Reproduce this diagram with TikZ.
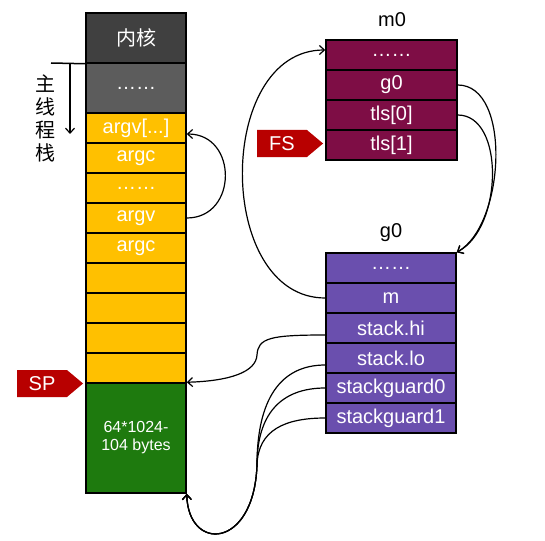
\documentclass[tikz,border=0pt]{standalone}
\usepackage{fontspec}
\setmainfont{Liberation Sans}
\newfontfamily\cjk{Noto Sans CJK SC}
\usetikzlibrary{arrows.meta,shapes.symbols}
\definecolor{kgray}{HTML}{404040}
\definecolor{dgray}{HTML}{5C5C5C}
\definecolor{ylw}{HTML}{FFC000}
\definecolor{grn}{HTML}{1E7A0E}
\definecolor{maroon}{HTML}{7E0D45}
\definecolor{purp}{HTML}{6A4FAE}
\definecolor{tagred}{HTML}{B80000}
\begin{document}
\begin{tikzpicture}[x=1pt,y=-1pt,
  cell/.style={draw=black, line width=1.5pt, minimum width=100pt, minimum height=30pt,
    inner sep=0pt, text=white, font=\fontsize{20}{23}\selectfont, anchor=center},
  lcell/.style={cell, fill=ylw},
  mcell/.style={cell, fill=maroon, minimum width=131pt},
  gcell/.style={cell, fill=purp, minimum width=130pt},
  lbl/.style={font=\fontsize{20}{23}\selectfont, text=black, inner sep=0pt},
  tag/.style={signal, signal to=east, signal pointer angle=80, fill=tagred, text=white,
    font=\fontsize{20}{23}\selectfont, minimum height=27pt, minimum width=66pt, inner sep=0pt},
  conn/.style={draw=black, line width=1.2pt, -{Straight Barb[length=5pt,width=9pt]}},
  plain/.style={draw=black, line width=1.2pt}]
\useasboundingbox (0,0) rectangle (545,540);

% left stack
\node[cell, fill=kgray, minimum height=50pt] (kern) at (136,38) {\cjk 内核};
\node[cell, fill=dgray, minimum height=50pt] (d1) at (136,88) {……};
\node[lcell] (argvx) at (136,128) {argv[...]};
\node[lcell] (argc1) at (136,158) {argc};
\node[lcell] (d2) at (136,188) {……};
\node[lcell] (argv) at (136,218) {argv};
\node[lcell] (argc2) at (136,248) {argc};
\node[lcell] (e1) at (136,278) {};
\node[lcell] (e2) at (136,308) {};
\node[lcell] (e3) at (136,338) {};
\node[lcell] (e4) at (136,368) {};
\node[cell, fill=grn, minimum height=110pt, font=\fontsize{16}{18}\selectfont, align=center] (grn) at (136,438) {64*1024-\\104 bytes};

% main thread stack marker
\coordinate (ax0) at (51,63);
\coordinate (at) at (70,63);
\coordinate (ab) at (70,134);
\draw[line width=1.5pt] (ax0) -- (kern.south west);
\draw[conn] (at) -- (ab);
\node[font=\fontsize{20}{23}\selectfont\cjk, align=center, inner sep=0pt] (mst) at (45,118) {主\\线\\程\\栈};

% m0
\node[lbl] (m0l) at (392,20) {m0};
\node[mcell] (m0d) at (391.5,55) {……};
\node[mcell] (m0g) at (391.5,85) {g0};
\node[mcell] (tls0) at (391.5,115) {tls[0]};
\node[mcell] (tls1) at (391.5,145) {tls[1]};

% g0
\node[lbl] (g0l) at (391,233) {g0};
\node[gcell] (g0d) at (391,268) {……};
\node[gcell] (gm) at (391,298) {m};
\node[gcell] (shi) at (391,328) {stack.hi};
\node[gcell] (slo) at (391,358) {stack.lo};
\node[gcell] (sg0) at (391,388) {stackguard0};
\node[gcell] (sg1) at (391,418) {stackguard1};

% tags
\node[tag] (sp) at (42,383.5) {SP};
\node[tag] (fs) at (282,143.5) {FS};

% connectors
\draw[conn] (argv.east) .. controls (238,218) and (238,134) .. ([yshift=-6pt]argvx.east);
\draw[conn] (gm.west) .. controls (215,298) and (215,50) .. ([yshift=5pt]m0d.west);
\draw[conn] (m0g.east) .. controls (512,85) and (505,225) .. (g0d.north east);
\draw[conn] (tls0.east) .. controls (505,115) and (503,228) .. (g0d.north east);
\draw[conn] ([yshift=-7pt]shi.west) .. controls (270,335) and (258,338) .. (257,355)
   .. controls (256,372) and (230,381) .. (grn.north east);
\coordinate (jn) at (257,465);
\draw[conn] ([yshift=-7pt]slo.west) .. controls (280,365) and (257,400) .. (jn)
   .. controls (254,550) and (188,552) .. (grn.south east);
\draw[conn] (sg0.west) .. controls (280,388) and (257,415) .. (jn)
   .. controls (254,550) and (188,552) .. (grn.south east);
\draw[conn] (sg1.west) .. controls (285,418) and (258,430) .. (jn)
   .. controls (254,550) and (188,552) .. (grn.south east);
\end{tikzpicture}
\end{document}
